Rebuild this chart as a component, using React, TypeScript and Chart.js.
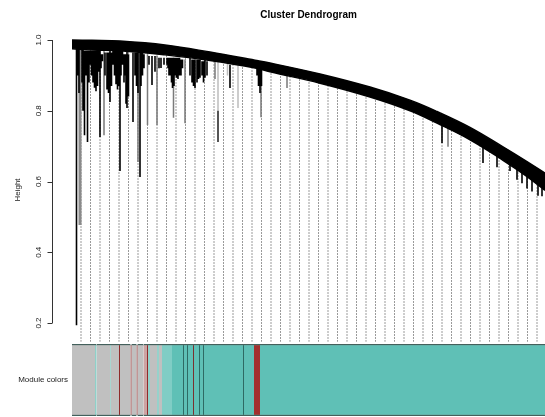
import React, { useEffect, useRef } from 'react';
import { Chart, registerables } from 'chart.js';

Chart.register(...registerables);

const FONT = "'Liberation Sans', Arial, Helvetica, sans-serif";

const TITLE = 'Cluster Dendrogram';
const Y_TITLE = 'Height';
const BAND_LABEL = 'Module colors';
const Y_TICKS = [0.2, 0.4, 0.6, 0.8, 1.0];
const Y_MIN = 0.1463;
const Y_MAX = 1.0057;
const X_MAX = 473; // leaf-order extent

// upper trunk of the dendrogram (merge heights along leaf order)
const BAND_X = [0, 20, 48, 93, 138, 183, 198, 248, 298, 338, 365, 398, 431, 453, 473];
const BAND_TOP = [1.0, 0.999, 0.997, 0.986, 0.966, 0.943, 0.935, 0.904, 0.867, 0.83, 0.798, 0.753, 0.698, 0.66, 0.624];
const BAND_BOTTOM = [0.975, 0.972, 0.97, 0.958, 0.942, 0.921, 0.91, 0.878, 0.839, 0.8, 0.765, 0.718, 0.66, 0.618, 0.575];

// leaf lines (dotted)
const LEAF_X = [9, 18.5, 28, 37.5, 47, 56.5, 66, 75.5, 85, 94.5, 104, 113.5, 123, 132.5, 142, 151.5, 161, 170.5, 180, 189.5,
  199, 208.5, 218, 227.5, 237, 246.5, 256, 265.5, 275, 284.5, 294, 303.5, 313, 322.5, 332, 341.5, 351, 360.5, 370, 379.5,
  389, 398.5, 408, 417.5, 427, 436.5, 446, 455.5, 465];
const LEAF_TOP = 1.0;
const LEAF_BOTTOM = 0.147;

// branches: [leaf position, top height, bottom height]
const BLACK_BRANCHES: [number, number, number][] = [
  [4.5, 0.985, 0.194], [12.5, 0.97, 0.731], [15.5, 0.97, 0.712], [28, 0.97, 0.726], [38, 0.97, 0.825],
  [48, 0.97, 0.63], [55, 0.97, 0.808], [61, 0.965, 0.768], [68, 0.965, 0.613], [80, 0.955, 0.873],
  [89, 0.95, 0.921], [100.5, 0.95, 0.864], [123, 0.945, 0.864], [158, 0.93, 0.864], [411, 0.7, 0.652], [425, 0.68, 0.64],
  [6, 0.975, 0.9], [7, 0.975, 0.85], [10, 0.975, 0.88], [11, 0.975, 0.8], [14, 0.97, 0.9], [17, 0.97, 0.88],
  [18, 0.97, 0.93], [19.5, 0.97, 0.9], [21, 0.97, 0.88], [22.5, 0.97, 0.865], [24, 0.97, 0.855], [25.5, 0.97, 0.87], [27, 0.97, 0.91],
  [29, 0.96, 0.92], [30.5, 0.96, 0.94],
  [33, 0.965, 0.9], [35, 0.965, 0.86], [36.5, 0.965, 0.85], [39.5, 0.965, 0.87],
  [41, 0.97, 0.93], [42.5, 0.97, 0.9], [44, 0.97, 0.875], [45.5, 0.97, 0.86], [47, 0.97, 0.87], [49, 0.97, 0.9], [50.5, 0.97, 0.93],
  [52, 0.96, 0.88], [53.5, 0.96, 0.9], [54, 0.96, 0.82], [56.5, 0.96, 0.84],
  [63, 0.965, 0.9], [64.5, 0.965, 0.87], [66, 0.965, 0.85], [69, 0.965, 0.87], [70.5, 0.965, 0.9],
  [72, 0.96, 0.92], [77, 0.955, 0.93], [83, 0.955, 0.91], [87, 0.95, 0.92], [92, 0.95, 0.93], [97, 0.95, 0.9],
  [96, 0.95, 0.92], [98, 0.95, 0.9], [99.5, 0.95, 0.88], [102, 0.95, 0.87], [109, 0.945, 0.9], [110.5, 0.945, 0.92],
  [103, 0.95, 0.9], [104.5, 0.95, 0.893], [106, 0.95, 0.89], [107.5, 0.95, 0.9],
  [95, 0.95, 0.93], [118, 0.95, 0.9], [128, 0.945, 0.893], [133, 0.945, 0.893],
  [120, 0.945, 0.88], [121.5, 0.945, 0.87], [125, 0.945, 0.88], [126.5, 0.945, 0.89], [130, 0.94, 0.9], [131.5, 0.94, 0.88], [135, 0.94, 0.9],
  [185, 0.925, 0.9], [186.5, 0.925, 0.87], [188, 0.925, 0.85], [189.5, 0.925, 0.87],
  [370, 0.78, 0.709], [438, 0.66, 0.63], [445, 0.645, 0.605], [450, 0.635, 0.595], [455, 0.625, 0.58],
  [460, 0.61, 0.572], [466, 0.6, 0.56], [470, 0.59, 0.558],
];
const GREY_WIDE_BRANCHES: [number, number, number][] = [[8, 0.98, 0.477]];
const GREY_BRANCHES: [number, number, number][] = [
  [32, 0.97, 0.731], [66, 0.965, 0.655], [75.5, 0.96, 0.76], [85, 0.955, 0.76], [101.5, 0.95, 0.78],
  [113, 0.945, 0.765], [143, 0.94, 0.89], [215, 0.9, 0.864], [189, 0.925, 0.782], [376, 0.77, 0.698],
];
const LIGHT_BRANCHES: [number, number, number][] = [[146, 0.94, 0.8], [155.5, 0.935, 0.9], [166, 0.93, 0.808]];
const DARK_BRANCHES: [number, number, number][] = [[146, 0.8, 0.712]];

// module colour strip: widths along leaf order and colours
const MODULE_WIDTHS = [23, 1.5, 13.5, 1, 8, 1, 10.5, 1, 5, 1, 6, 3.5, 1, 2, 7, 2, 3, 10, 11, 1, 3, 1, 5, 1, 5, 1, 3, 1, 39, 1, 10, 6, 285];
const MODULE_COLORS = [
  '#c0c0c0', '#8fd0c8', '#c0c0c0', '#a8d6d1', '#c0c0c0', '#8e2b2b', '#c0c0c0', '#8e2b2b', '#c0c0c0', '#8e2b2b',
  '#c0c0c0', '#cda3a3', '#8e2b2b', '#96d2cb', '#c0c0c0', '#96d2cb', '#c0c0c0', '#80cdc5', '#5fc0b6', '#2e6a64',
  '#5fc0b6', '#2e6a64', '#5fc0b6', '#7a3030', '#5fc0b6', '#2e6a64', '#5fc0b6', '#2e6a64', '#5fc0b6', '#2e6a64',
  '#5fc0b6', '#a3302e', '#5fc0b6',
];

const segs = (list: [number, number, number][]) => {
  const out: { x: number; y: number | null }[] = [];
  list.forEach(([x, t, b]) => {
    out.push({ x, y: t }, { x, y: b }, { x, y: null });
  });
  return out;
};
const curve = (ys: number[]) => BAND_X.map((x, i) => ({ x, y: ys[i] }));

const axisLinePlugin = {
  id: 'rAxisLine',
  afterDraw(chart: any) {
    const y = chart.scales.y;
    const ctx = chart.ctx;
    const x0 = Math.round(chart.chartArea.left - 20) + 0.5;
    ctx.save();
    ctx.strokeStyle = '#333';
    ctx.lineWidth = 1;
    ctx.beginPath();
    ctx.moveTo(x0, y.getPixelForValue(Y_TICKS[0]));
    ctx.lineTo(x0, y.getPixelForValue(Y_TICKS[Y_TICKS.length - 1]));
    Y_TICKS.forEach((t) => {
      const py = Math.round(y.getPixelForValue(t)) + 0.5;
      ctx.moveTo(x0, py);
      ctx.lineTo(x0 - 5, py);
    });
    ctx.stroke();
    ctx.restore();
  },
};

export default function App() {
  const topRef = useRef<HTMLCanvasElement>(null);
  const botRef = useRef<HTMLCanvasElement>(null);

  useEffect(() => {
    const leafPts = segs(LEAF_X.map((x) => [x, LEAF_TOP, LEAF_BOTTOM] as [number, number, number]));
    const line = (data: any, color: string, width: number, order: number, extra: any = {}) => ({
      type: 'line',
      data,
      borderColor: color,
      borderWidth: width,
      pointRadius: 0,
      fill: false,
      tension: 0,
      order,
      ...extra,
    });
    const smooth = { tension: 0.4 };
    const top = new Chart(topRef.current as HTMLCanvasElement, {
      type: 'line',
      data: {
        datasets: [
          line(leafPts, '#9a9a9a', 1, 10, { borderDash: [2, 1] }),
          line(curve(BAND_TOP), 'rgba(0,0,0,0)', 0, 9, { fill: 'end', backgroundColor: '#ffffff', ...smooth }),
          line(segs(LIGHT_BRANCHES), '#bdbdbd', 1.5, 6),
          line(segs(GREY_BRANCHES), '#7a7a7a', 1.5, 5),
          line(segs(GREY_WIDE_BRANCHES), '#8a8a8a', 3, 5),
          line(segs(DARK_BRANCHES), '#555555', 2, 4),
          line(segs(BLACK_BRANCHES), '#000000', 1.6, 3),
          line(curve(BAND_BOTTOM), '#000000', 1.5, 1, smooth),
          line(curve(BAND_TOP), '#000000', 1.5, 1, { fill: '-1', backgroundColor: '#000000', ...smooth }),
        ] as any,
      },
      options: {
        responsive: false,
        animation: false,
        events: [],
        layout: { padding: 0 },
        plugins: {
          legend: { display: false },
          tooltip: { enabled: false },
          title: {
            display: true,
            text: TITLE,
            fullSize: false,
            color: '#000',
            font: { family: FONT, size: 10, weight: 'bold' },
            padding: { top: 9, bottom: 17 },
          },
        },
        scales: {
          x: { type: 'linear', min: 0, max: X_MAX, display: false },
          y: {
            type: 'linear',
            min: Y_MIN,
            max: Y_MAX,
            afterBuildTicks: (s: any) => {
              s.ticks = Y_TICKS.map((v) => ({ value: v }));
            },
            afterFit: (s: any) => {
              s.width = 72;
              s.paddingTop = 0;
              s.paddingBottom = 0;
            },
            grid: { display: false, drawTicks: false },
            border: { display: false },
            ticks: {
              minRotation: 90,
              maxRotation: 90,
              crossAlign: 'center',
              padding: 28,
              color: '#222',
              font: { family: FONT, size: 8 },
              callback: (v: any) => Number(v).toFixed(1),
            },
            title: {
              display: true,
              text: Y_TITLE,
              color: '#222',
              font: { family: FONT, size: 8 },
              padding: { top: 13, bottom: 0 },
            },
          },
        },
      } as any,
      plugins: [axisLinePlugin],
    });

    const bot = new Chart(botRef.current as HTMLCanvasElement, {
      type: 'bar',
      data: {
        labels: [BAND_LABEL],
        datasets: MODULE_WIDTHS.map((w, i) => ({
          data: [w],
          backgroundColor: MODULE_COLORS[i],
          borderColor: '#44605c',
          borderWidth: { top: 1.5, bottom: 1.5, left: 0, right: 0 },
          borderSkipped: false,
          barPercentage: 1,
          categoryPercentage: 1,
        })) as any,
      },
      options: {
        indexAxis: 'y',
        responsive: false,
        animation: false,
        events: [],
        layout: { padding: { top: 2, bottom: 1, left: 0, right: 0 } },
        plugins: { legend: { display: false }, tooltip: { enabled: false } },
        scales: {
          x: { type: 'linear', stacked: true, min: 0, max: X_MAX, display: false },
          y: {
            stacked: true,
            grid: { display: false, drawTicks: false },
            border: { display: false },
            ticks: { color: '#222', padding: 4, font: { family: FONT, size: 8 } },
            afterFit: (s: any) => {
              s.width = 72;
              s.paddingTop = 0;
              s.paddingBottom = 0;
            },
          },
        },
      } as any,
    });

    return () => {
      top.destroy();
      bot.destroy();
    };
  }, []);

  return (
    <div style={{ position: 'absolute', left: 0, top: 0, width: 545, height: 417, background: '#fff' }}>
      <canvas ref={topRef} width={545} height={342} style={{ position: 'absolute', left: 0, top: 0 }} />
      <canvas ref={botRef} width={545} height={75} style={{ position: 'absolute', left: 0, top: 342 }} />
    </div>
  );
}
